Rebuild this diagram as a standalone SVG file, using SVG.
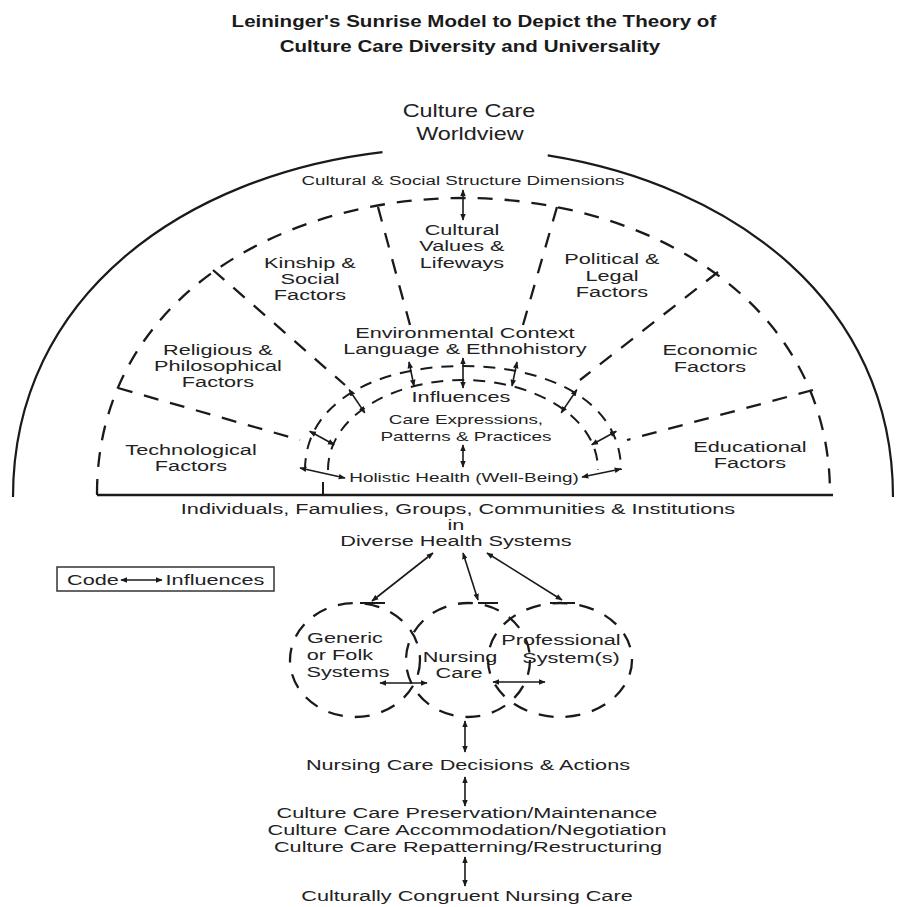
<svg xmlns="http://www.w3.org/2000/svg" width="901" height="907" viewBox="0 0 901 907">
<defs>
<style>
.t{font-family:"Liberation Sans",Arial,Helvetica,sans-serif;font-size:15.5px;fill:#222;text-anchor:middle;transform-box:fill-box;transform-origin:center;transform:scaleX(1.4)}
.s{font-size:13.5px}
.big{font-size:18px;transform:scaleX(1.3)}
.ttl{font-size:17px;font-weight:bold;fill:#1a1a1a;transform:scaleX(1.21)}
.sm{font-size:13.5px;transform:scaleX(1.39)}
.solid{fill:none;stroke:#1a1a1a;stroke-width:2.2}
.dash{fill:none;stroke:#1a1a1a;stroke-width:2.3;stroke-dasharray:15 12}
.dash2{fill:none;stroke:#1a1a1a;stroke-width:2;stroke-dasharray:12 9}
.arr{fill:none;stroke:#1a1a1a;stroke-width:1.6;marker-start:url(#ah);marker-end:url(#ah)}
.bar{fill:none;stroke:#1a1a1a;stroke-width:2}
.box{fill:none;stroke:#333;stroke-width:1.5}
</style>
<marker id="ah" viewBox="0 0 10 10" refX="9" refY="5" markerWidth="7" markerHeight="7" markerUnits="userSpaceOnUse" orient="auto-start-reverse">
<path d="M0,1 L10,5 L0,9 z" fill="#1a1a1a"/>
</marker>
</defs>
<rect width="901" height="907" fill="#fff"/>

<g id="title">
<text class="t ttl" x="474" y="27">Leininger's Sunrise Model to Depict the Theory of</text>
<text class="t ttl" x="470" y="52">Culture Care Diversity and Universality</text>
</g>

<g id="worldview">
<path class="solid" d="M13,497 C13,294.1 186.4,175 382.5,152.1"/>
<path class="solid" d="M547.7,155.4 C733.6,185 893,302.5 893,497"/>
<text class="t big" x="469" y="117">Culture Care</text>
<text class="t big" x="470" y="140">Worldview</text>
</g>

<g id="structure">
<path class="dash" d="M97,494 C97,300 280,198 463,198 C646,198 830,300 830,494"/>
<line class="bar" x1="97" y1="482" x2="97" y2="495"/>
<line x1="97" y1="495" x2="833" y2="495" stroke="#1a1a1a" stroke-width="2.6"/>
<line class="bar" x1="323" y1="482" x2="323" y2="495"/>
<text class="t sm" x="463" y="185">Cultural &amp; Social Structure Dimensions</text>
</g>

<g id="dividers">
<line class="dash" x1="378" y1="207" x2="410" y2="325"/>
<line class="dash" x1="557" y1="207" x2="523" y2="325"/>
<line class="dash" x1="213" y1="270" x2="345" y2="385"/>
<line class="dash" x1="718" y1="272" x2="580" y2="380"/>
<line class="dash" x1="118" y1="388" x2="300" y2="440"/>
<line class="dash" x1="813" y1="390" x2="627" y2="440"/>
</g>

<g id="cultural-values">
<text class="t" x="462" y="235">Cultural</text>
<text class="t" x="462" y="251">Values &amp;</text>
<text class="t" x="462" y="268">Lifeways</text>
</g>
<g id="kinship">
<text class="t" x="310" y="268">Kinship &amp;</text>
<text class="t" x="310" y="284">Social</text>
<text class="t" x="310" y="300">Factors</text>
</g>
<g id="political">
<text class="t" x="612" y="264">Political &amp;</text>
<text class="t" x="612" y="281">Legal</text>
<text class="t" x="612" y="297">Factors</text>
</g>
<g id="environmental">
<text class="t" x="465" y="338">Environmental Context</text>
<text class="t" x="465" y="354">Language &amp; Ethnohistory</text>
</g>
<g id="religious">
<text class="t" x="218" y="355">Religious &amp;</text>
<text class="t" x="218" y="371">Philosophical</text>
<text class="t" x="218" y="387">Factors</text>
</g>
<g id="economic">
<text class="t" x="710" y="355">Economic</text>
<text class="t" x="710" y="372">Factors</text>
</g>
<g id="technological">
<text class="t" x="191" y="455">Technological</text>
<text class="t" x="191" y="471">Factors</text>
</g>
<g id="educational">
<text class="t" x="750" y="452">Educational</text>
<text class="t" x="750" y="468">Factors</text>
</g>

<g id="care-expressions">
<path class="dash2" d="M305,470 C305,400 380,366 463,366 C546,366 621,400 621,470"/>
<path class="dash2" d="M328,470 C328,415 395,380 463,380 C531,380 598,415 598,470"/>
<text class="t" x="461" y="402">Influences</text>
<text class="t s" x="466" y="424">Care Expressions,</text>
<text class="t s" x="466" y="441">Patterns &amp; Practices</text>
</g>
<g id="holistic-health">
<text class="t s" x="464" y="482">Holistic Health (Well-Being)</text>
</g>

<g id="people">
<text class="t" x="458" y="514">Individuals, Famulies, Groups, Communities &amp; Institutions</text>
<text class="t" x="456" y="530">in</text>
<text class="t" x="456" y="546">Diverse Health Systems</text>
</g>

<g id="legend">
<rect class="box" x="57" y="567" width="217" height="24"/>
<text class="t" x="93" y="585">Code</text>
<line x1="121" y1="580" x2="162" y2="580" stroke="#1a1a1a" stroke-width="1.4" marker-start="url(#ah)" marker-end="url(#ah)"/>
<text class="t" x="215" y="585">Influences</text>
</g>

<g id="generic">
<ellipse class="dash" cx="355" cy="660" rx="65" ry="57"/>
<text class="t" x="345" y="643">Generic</text>
<text class="t" x="340" y="660">or Folk</text>
<text class="t" x="348" y="677">Systems</text>
</g>
<g id="nursing">
<ellipse class="dash" cx="468" cy="660" rx="62" ry="57"/>
<text class="t" x="460" y="662">Nursing</text>
<text class="t" x="459" y="678">Care</text>
</g>
<g id="professional">
<ellipse class="dash" cx="560" cy="660" rx="72" ry="57"/>
<text class="t" x="561" y="645">Professional</text>
<text class="t" x="571" y="663">System(s)</text>
</g>

<g id="decisions">
<text class="t" x="468" y="770">Nursing Care Decisions &amp; Actions</text>
</g>
<g id="actions">
<text class="t" x="467" y="818">Culture Care Preservation/Maintenance</text>
<text class="t" x="467" y="835">Culture Care Accommodation/Negotiation</text>
<text class="t" x="468" y="852">Culture Care Repatterning/Restructuring</text>
</g>
<g id="outcome">
<text class="t" x="467" y="901">Culturally Congruent Nursing Care</text>
</g>

<g id="connectors">
<line class="arr" x1="463" y1="190" x2="463" y2="220"/>
<line class="arr" x1="463" y1="358" x2="463" y2="388"/>
<line class="arr" x1="463" y1="445" x2="463" y2="467"/>
<line class="arr" x1="300" y1="468" x2="345" y2="478"/>
<line class="arr" x1="582" y1="477" x2="621" y2="469"/>
<line class="arr" x1="309.7" y1="431.3" x2="334.3" y2="444.7"/>
<line class="arr" x1="349.2" y1="389.7" x2="364.8" y2="412.9"/>
<line class="arr" x1="409" y1="362" x2="414" y2="386"/>
<line class="arr" x1="517" y1="362" x2="512" y2="386"/>
<line class="arr" x1="576.8" y1="389.7" x2="561.2" y2="412.9"/>
<line class="arr" x1="616.3" y1="431.3" x2="591.7" y2="444.7"/>
<line class="arr" x1="433" y1="553" x2="372" y2="601"/>
<line class="arr" x1="463" y1="553" x2="478" y2="600"/>
<line class="arr" x1="487" y1="553" x2="562" y2="600"/>
<line class="bar" x1="360" y1="603" x2="385" y2="603"/>
<line class="bar" x1="478" y1="603" x2="498" y2="603"/>
<line class="bar" x1="550" y1="603" x2="575" y2="603"/>
<line class="arr" x1="380" y1="683" x2="427" y2="683"/>
<line class="arr" x1="493" y1="682" x2="545" y2="682"/>
<line class="arr" x1="465" y1="721" x2="465" y2="752"/>
<line class="arr" x1="465" y1="777" x2="465" y2="806"/>
<line class="arr" x1="465" y1="857" x2="465" y2="886"/>
</g>
</svg>
